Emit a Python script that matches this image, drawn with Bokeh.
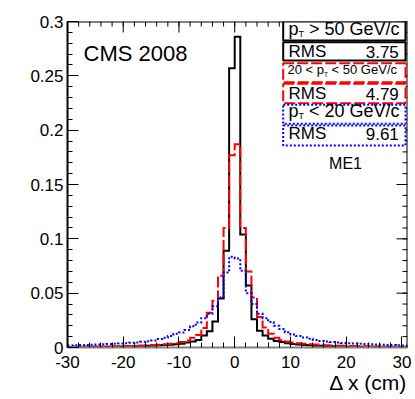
from bokeh.plotting import figure
from bokeh.models import Range1d, FixedTicker, LinearAxis, Label, BoxAnnotation, Span, Title
from bokeh.embed import file_html
from bokeh.resources import INLINE

# ---------------- data ----------------
bin_left = list(range(-30, 31))  # bins of width 1 cm, [k, k+1)

pt_high = [0.0005, 0.0005, 0.0005, 0.0006, 0.0006, 0.0007, 0.0007, 0.0008, 0.0008, 0.0009,
           0.001, 0.001, 0.0012, 0.0013, 0.0015, 0.0017, 0.002, 0.0022, 0.0025, 0.003,
           0.0035, 0.0045, 0.0055, 0.007, 0.011, 0.015, 0.024, 0.045, 0.089, 0.257,
           0.286, 0.104, 0.057, 0.026, 0.0155, 0.011, 0.008, 0.006, 0.005, 0.004, 0.0032,
           0.0028, 0.0024, 0.002, 0.0017, 0.0015, 0.0013, 0.0011, 0.001, 0.0009, 0.0008,
           0.0008, 0.0007, 0.0007, 0.0006, 0.0006, 0.0005, 0.0005, 0.0005, 0.0004, 0.0004]

pt_mid = [0.0005, 0.0006, 0.0006, 0.0007, 0.0007, 0.0008, 0.0009, 0.001, 0.0011, 0.0012,
          0.0013, 0.0014, 0.0016, 0.0018, 0.002, 0.0023, 0.0026, 0.003, 0.0035, 0.004,
          0.005, 0.0065, 0.009, 0.0115, 0.018, 0.032, 0.043, 0.066, 0.110, 0.177,
          0.187, 0.110, 0.070, 0.046, 0.028, 0.0185, 0.0126, 0.009, 0.007, 0.0055, 0.0045,
          0.004, 0.0035, 0.003, 0.0027, 0.0024, 0.0021, 0.0019, 0.0017, 0.0015, 0.0014,
          0.0013, 0.0012, 0.0011, 0.001, 0.0009, 0.0008, 0.0007, 0.0007, 0.0006, 0.0006]

pt_low = [0.0018, 0.002, 0.0022, 0.0024, 0.0026, 0.0028, 0.003, 0.0032, 0.0034, 0.0037,
          0.004, 0.0043, 0.0047, 0.0052, 0.0058,
          0.0065, 0.0078, 0.009, 0.0105, 0.0126, 0.0138, 0.016, 0.0195, 0.023, 0.027,
          0.031, 0.038, 0.046, 0.069, 0.0835,
          0.082, 0.0706, 0.050, 0.040, 0.031, 0.027, 0.0235, 0.020, 0.017, 0.014,
          0.012, 0.0105, 0.0092, 0.008, 0.007, 0.006,
          0.0055, 0.005, 0.0046, 0.0042, 0.0039, 0.0036, 0.0034, 0.0032, 0.003, 0.0028,
          0.0026, 0.0024, 0.0022, 0.002, 0.0018]

rms_values = ["3.75", "4.79", "9.61"]

x_major = [-30, -20, -10, 0, 10, 20, 30]
x_labels = ["-30", "-20", "-10", "0", "10", "20", "30"]
x_minor = list(range(-30, 31, 2))
y_major = [0, 0.05, 0.1, 0.15, 0.2, 0.25, 0.3]
y_labels = ["0", "0.05", "0.1", "0.15", "0.2", "0.25", "0.3"]
y_minor = [round(i * 0.01, 2) for i in range(0, 31)]

# ---------------- layout ----------------
X0, X1 = -30, 31
Y0, Y1 = 0.0, 0.3
W, H = 415, 399
ML, MR, MT, MB = 67, 8, 21, 52
FW = W - ML - MR
FH = H - MT - MB
FONT = "Liberation Sans"


def dx(px):
    return X0 + (px - ML) * (X1 - X0) / FW


def dy(py):
    return Y1 - (py - MT) * (Y1 - Y0) / FH


p = figure(width=W, height=H, x_range=Range1d(X0, X1), y_range=Range1d(Y0, Y1),
           output_backend="svg", toolbar_location=None,
           min_border_left=ML, min_border_right=MR, min_border_top=MT, min_border_bottom=MB,
           x_axis_type=None, y_axis_type=None)
p.outline_line_color = None
p.xgrid.visible = False
p.ygrid.visible = False
p.background_fill_color = "white"
p.border_fill_color = "white"

xt = FixedTicker(ticks=x_major, minor_ticks=x_minor)
yt = FixedTicker(ticks=y_major, minor_ticks=y_minor)

MAJ, MIN = 11, 5


def make_axis(ticker, vals, txt, line_color="black"):
    ax = LinearAxis(ticker=ticker)
    ax.major_tick_in = MAJ
    ax.major_tick_out = 0
    ax.minor_tick_in = MIN
    ax.minor_tick_out = 0
    ax.axis_line_width = 2
    ax.axis_line_color = line_color
    ax.major_label_overrides = {v: t for v, t in zip(vals, txt)}
    ax.major_label_text_font = FONT
    ax.major_label_text_font_size = "17px"
    ax.major_label_text_color = "black"
    return ax


bottom = make_axis(xt, x_major, x_labels, line_color="#808080")
bottom.major_label_standoff = 8
left = make_axis(yt, y_major, y_labels)
left.major_label_standoff = 4
p.add_layout(bottom, "below")
p.add_layout(left, "left")

p.add_layout(Title(text="\u0394 x (cm)", align="right", text_font=FONT, text_font_size="21px",
                   text_font_style="normal", text_color="black", standoff=-4), "below")

# top and right frame lines with inward ticks
p.add_layout(Span(location=Y1, dimension="width", line_color="black", line_width=2))
p.add_layout(Span(location=X1, dimension="height", line_color="black", line_width=2))
ty = (Y1 - Y0) / FH
tx = (X1 - X0) / FW
top_x = list(x_minor) + x_major
top_len = [MIN] * len(x_minor) + [MAJ] * len(x_major)
p.segment(x0=top_x, x1=top_x, y0=[Y1] * len(top_x), y1=[Y1 - L * ty for L in top_len],
          line_color="black", line_width=1)
r_y = y_minor + y_major
r_len = [MIN] * len(y_minor) + [MAJ] * len(y_major)
p.segment(x0=[X1] * len(r_y), x1=[X1 - L * tx for L in r_len], y0=r_y, y1=r_y,
          line_color="black", line_width=1)


def outline(vals):
    xs, ys = [], []
    for k, v in zip(bin_left, vals):
        xs += [k, k + 1]
        ys += [v, v]
    return xs, ys


styles = [("black", "solid"), ("red", "11 3"), ("blue", "2 2")]
for vals, (col, dash) in zip([pt_high, pt_mid, pt_low], styles):
    xs, ys = outline(vals)
    p.line(xs, ys, line_color=col, line_width=2, line_dash=dash, line_join="miter")

# ---------------- legend / stat boxes ----------------
box_rows = [(21, 40), (41.7, 60), (62.7, 81.7), (83.3, 102.7), (104.3, 123.3), (125, 145)]
BL, BR = 282.7, 405
for i, (t, b) in enumerate(box_rows):
    col, dash = styles[i // 2]
    p.add_layout(BoxAnnotation(left=dx(BL), right=dx(BR), top=dy(t), bottom=dy(b),
                               fill_color="white", fill_alpha=1.0, line_color=col,
                               line_alpha=1.0, line_width=2, line_dash=dash))


def lab(px, py, text, size, align="left"):
    # py is the text baseline in pixels; place by the middle of the capitals
    p.add_layout(Label(x=dx(px), y=dy(py - 0.36 * size), text=text, text_font=FONT,
                       text_font_size=f"{size}px", text_color="black",
                       text_align=align, text_baseline="middle"))


def pt_text(px, py, before, after, size):
    x = px
    if before:
        lab(x, py, before, size)
        x += sum(0.556 if ch.isdigit() else (0.584 if ch in "<>" else 0.278) for ch in before) * size
    lab(x, py, "p", size)
    x += 0.556 * size
    sub = size * 0.5
    lab(x, py + 2, "T", sub)
    x += 0.611 * sub + 0.278 * size
    lab(x, py, after, size)


TL, TR = 288, 398.3
pt_text(TL, 35, "", "> 50 GeV/c", 18)
lab(TL, 57.3, "RMS", 17)
lab(TR, 57.3, rms_values[0], 17, align="right")
pt_text(TL - 1, 74, "20 < ", "< 50 GeV/c", 13)
lab(TL, 99.3, "RMS", 17)
lab(TR, 99.3, rms_values[1], 17, align="right")
pt_text(TL, 116.7, "", "< 20 GeV/c", 18)
lab(TL, 139.3, "RMS", 17)
lab(TR, 139.3, rms_values[2], 17, align="right")

lab(345, 168.3, "ME1", 16, align="center")
lab(83, 61, "CMS 2008", 22)

open("out.html", "w").write(file_html(p, INLINE))
